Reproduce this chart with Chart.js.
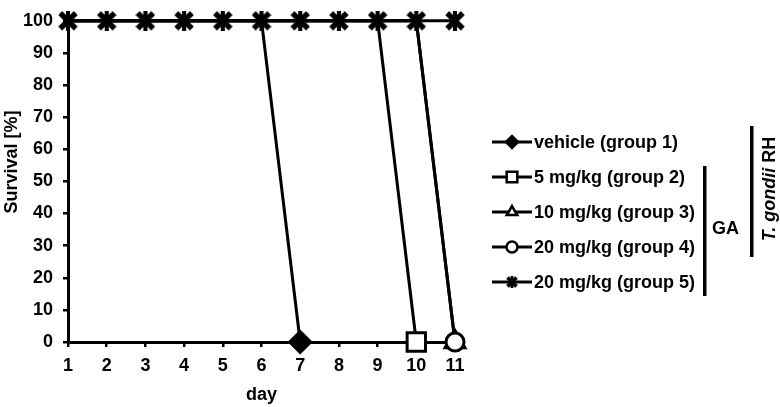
<!DOCTYPE html>
<html>
<head>
<meta charset="utf-8">
<script src="https://cdn.jsdelivr.net/npm/chart.js@4/dist/chart.umd.min.js"></script>
<style>
  html,body{margin:0;padding:0;background:#fff;}
  #wrap{width:780px;height:407px;}
</style>
</head>
<body>
<div id="wrap"><canvas id="survival" width="780" height="407"></canvas></div>
<script>
// data
var days = ['1','2','3','4','5','6','7','8','9','10','11'];
var group1 = [100,100,100,100,100,100,0,null,null,null,null];
var group2 = [100,100,100,100,100,100,100,100,100,0,null];
var group3 = [100,100,100,100,100,100,100,100,100,100,0];
var group4 = [100,100,100,100,100,100,100,100,100,100,0];
var group5 = [100,100,100,100,100,100,100,100,100,100,100];
var seriesLabels = ['vehicle (group 1)','5 mg/kg (group 2)','10 mg/kg (group 3)','20 mg/kg (group 4)','20 mg/kg (group 5)'];
var yTicks = [0,10,20,30,40,50,60,70,80,90,100];

var FONT = "'Liberation Sans', Arial, sans-serif";

// the "Ж" marker of group 5
function makeCross(w,h,lw){
    var c=document.createElement('canvas');
    c.width=w; c.height=h;
    var g=c.getContext('2d');
    g.strokeStyle='#000';
    g.lineWidth=lw;
    g.beginPath();
    g.moveTo(lw*0.4,lw*0.4); g.lineTo(w-lw*0.4,h-lw*0.4);
    g.moveTo(w-lw*0.4,lw*0.4); g.lineTo(lw*0.4,h-lw*0.4);
    g.stroke();
    g.lineWidth=lw*0.75;
    g.beginPath();
    g.moveTo(w/2,0); g.lineTo(w/2,h);
    g.stroke();
    return c;
}
var crossBig=makeCross(20,20,5.5);
var crossSmall=makeCross(12,12,3.8);

var styles=[
    {pointStyle:'rectRot', radius:10.5,fill:'#000', lr:6},
    {pointStyle:'rect',    radius:13,  fill:'#fff', lr:7.5},
    {pointStyle:'triangle',radius:11.5,fill:'#fff', lr:6},
    {pointStyle:'circle',  radius:9,   fill:'#fff', lr:5.5},
    {pointStyle:crossBig,  radius:10,  fill:'#000', lr:6, legendImg:crossSmall}
];
var series=[group1,group2,group3,group4,group5];
var orders=[0,0,1,0,-1];

var datasets=series.map(function(vals,i){
    return {
        label: seriesLabels[i],
        data: vals,
        borderColor:'#000',
        backgroundColor: styles[i].fill,
        borderWidth:3,
        pointStyle: styles[i].pointStyle,
        // markers at 100 sit under the group 5 crosses
        pointRadius: function(c){ return (i<4 && c.raw===100) ? 0 : styles[i].radius; },
        pointBorderWidth:3,
        pointBorderColor:'#000',
        pointBackgroundColor: styles[i].fill,
        tension:0,
        clip:false,
        order: orders[i],
        spanGaps:false
    };
});

// legend, axis title and GA / T. gondii brackets drawn by hand
var sideLegend={
    id:'sideLegend',
    afterDraw:function(chart){
        var ctx=chart.ctx;
        var rows=[142,177,212,247,282];
        ctx.save();
        ctx.font="bold 18px "+FONT;
        ctx.textBaseline='middle';
        ctx.fillStyle='#000';
        seriesLabels.forEach(function(lab,i){
            var y=rows[i];
            ctx.strokeStyle='#000';
            ctx.lineWidth=3;
            ctx.beginPath(); ctx.moveTo(492,y); ctx.lineTo(532,y); ctx.stroke();
            ctx.fillStyle=styles[i].fill;
            ctx.lineWidth=2.5;
            Chart.helpers.drawPoint(ctx,{
                pointStyle: styles[i].legendImg || styles[i].pointStyle,
                radius: styles[i].lr,
                borderWidth:2.5,
                rotation:0
            },512,y);
            ctx.fillStyle='#000';
            ctx.textAlign='left';
            ctx.fillText(lab,534,y+1);
        });
        // GA bracket
        ctx.fillRect(703,166,3.5,130);
        ctx.fillText('GA',712,229);
        // y axis title
        ctx.save();
        ctx.translate(12,162);
        ctx.rotate(-Math.PI/2);
        ctx.textAlign='center';
        ctx.fillText('Survival [%]',0,0);
        ctx.restore();
        // T. gondii RH bracket
        ctx.fillRect(750,126,3.5,131);
        ctx.translate(770,189);
        ctx.rotate(-Math.PI/2);
        ctx.textAlign='left';
        var t1='T. gondii', t2=' RH';
        ctx.font="italic bold 18px "+FONT;
        var w1=ctx.measureText(t1).width;
        ctx.font="bold 18px "+FONT;
        var w2=ctx.measureText(t2).width;
        var x0=-(w1+w2)/2;
        ctx.font="italic bold 18px "+FONT;
        ctx.fillText(t1,x0,0);
        ctx.font="bold 18px "+FONT;
        ctx.fillText(t2,x0+w1,0);
        ctx.restore();
    }
};

new Chart(document.getElementById('survival'),{
    type:'line',
    data:{ labels:days, datasets:datasets },
    options:{
        responsive:false,
        animation:false,
        layout:{ padding:{ top:12, right:325, left:0, bottom:0 } },
        plugins:{ legend:{display:false}, tooltip:{enabled:false} },
        scales:{
            x:{
                offset:false,
                grid:{ drawOnChartArea:false, drawTicks:true, tickLength:5, color:'#000', lineWidth:2.5 },
                border:{ color:'#000', width:3 },
                ticks:{ color:'#000', font:{family:FONT, size:18, weight:'bold'}, padding:8, maxRotation:0, autoSkip:false },
                title:{ display:true, text:'day', color:'#000', font:{family:FONT, size:18, weight:'bold'}, padding:{top:0,bottom:1} },
                afterFit:function(s){ s.height=65; }
            },
            y:{
                min:0, max:100,
                afterBuildTicks:function(s){ s.ticks=yTicks.map(function(v){return {value:v};}); },
                grid:{ drawOnChartArea:false, drawTicks:true, tickLength:5, color:'#000', lineWidth:2.5 },
                border:{ color:'#000', width:3 },
                ticks:{ color:'#000', font:{family:FONT, size:18, weight:'bold'}, padding:10 },
                afterFit:function(s){ s.width=68; }
            }
        }
    },
    plugins:[sideLegend]
});
</script>
</body>
</html>
